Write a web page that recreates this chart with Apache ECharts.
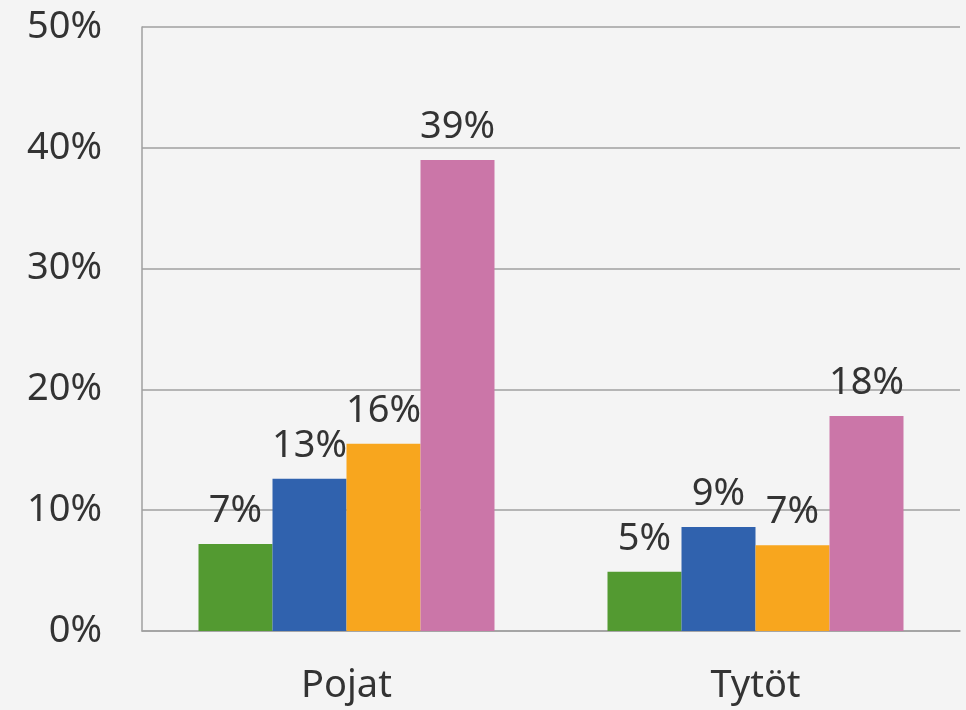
<!DOCTYPE html>
<html lang="fi">
<head>
<meta charset="UTF-8">
<title>Pojat / Tytöt</title>
<script src="https://cdn.jsdelivr.net/npm/echarts@6/dist/echarts.min.js"></script>
<style>
  * { margin: 0; padding: 0; }
  html, body, #main { width: 100%; height: 100%; background: #f4f4f4; }
</style>
</head>
<body>
<div id="main"></div>
<script>
  const categories = ['Pojat', 'Tytöt'];
  const greenValues = [7.2, 4.9];
  const blueValues = [12.6, 8.6];
  const orangeValues = [15.5, 7.1];
  const pinkValues = [39.0, 17.8];
  const colors = ['#539a31', '#3062ae', '#f8a61e', '#cb76a8'];

  const chart = echarts.init(document.getElementById('main'));
  const font = '"Noto Sans", sans-serif';

  function bar(data, color) {
    return {
      type: 'bar',
      data: data,
      barWidth: 74,
      barGap: 0,
      itemStyle: { color: color },
      label: {
        show: true,
        position: 'top',
        distance: 14,
        color: '#333',
        fontFamily: font,
        fontSize: 38,
        formatter: p => Math.round(p.value) + '%'
      }
    };
  }

  const option = {
    backgroundColor: '#f4f4f4',
    animation: false,
    grid: { left: 142, right: 6, top: 27, bottom: 79 },
    xAxis: {
      type: 'category',
      data: categories,
      axisTick: { show: false },
      axisLine: { lineStyle: { color: '#a0a0a0', width: 1.5 } },
      axisLabel: { color: '#333', fontFamily: font, fontSize: 38, margin: 36 }
    },
    yAxis: {
      type: 'value',
      min: 0,
      max: 50,
      interval: 10,
      axisLine: { show: true, lineStyle: { color: '#a0a0a0', width: 1.5 } },
      axisTick: { show: false },
      splitLine: { lineStyle: { color: '#a0a0a0', width: 1.5 } },
      axisLabel: { color: '#333', fontFamily: font, fontSize: 38, margin: 40, formatter: '{value}%' }
    },
    series: [
      bar(greenValues, colors[0]),
      bar(blueValues, colors[1]),
      bar(orangeValues, colors[2]),
      bar(pinkValues, colors[3])
    ]
  };

  chart.setOption(option);
</script>
</body>
</html>
